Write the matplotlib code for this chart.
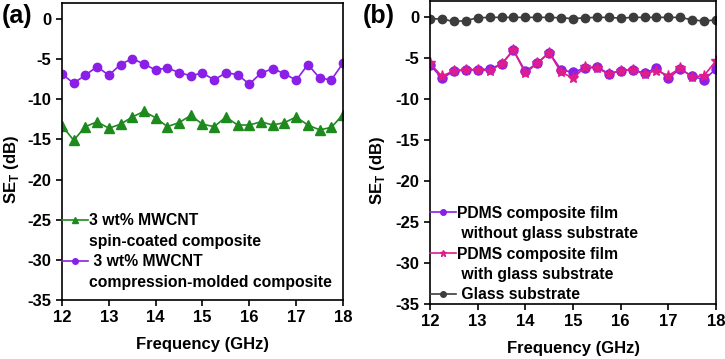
import numpy as np
import matplotlib
matplotlib.use('Agg')
import matplotlib.pyplot as plt
from matplotlib.lines import Line2D

plt.rcParams['font.family'] = ['Liberation Sans', 'DejaVu Sans']
plt.rcParams['font.weight'] = 'bold'
plt.rcParams['font.size'] = 11
plt.rcParams['axes.unicode_minus'] = False

# frequency points (GHz)
freq = np.arange(12, 18.01, 0.25)

# panel (a)
spin_coated = [-13.3, -15.1, -13.4, -12.8, -13.6, -13.1, -12.2, -11.5, -12.3, -13.4,
               -12.9, -12.0, -13.1, -13.4, -12.2, -13.2, -13.2, -12.8, -13.2, -12.9,
               -12.2, -13.2, -13.8, -13.5, -11.9]
comp_molded = [-6.84, -8.0, -6.97, -5.94, -7.0, -5.66, -4.92, -5.6, -6.35, -6.07,
               -6.68, -7.05, -6.72, -7.58, -6.68, -6.93, -8.1, -6.72, -6.19, -6.8,
               -7.62, -5.66, -7.34, -7.58, -5.5]

# panel (b)
no_glass = [-5.8, -7.4, -6.6, -6.4, -6.4, -6.3, -5.7, -4.0, -6.6, -5.6,
            -4.3, -6.4, -6.7, -6.2, -6.0, -6.9, -6.5, -6.4, -6.8, -6.2,
            -7.4, -6.3, -7.2, -7.6, -6.3]
with_glass = [-5.6, -7.2, -6.5, -6.4, -6.4, -6.5, -5.7, -4.0, -6.8, -5.6,
              -4.3, -6.7, -7.4, -6.1, -6.2, -6.9, -6.5, -6.4, -6.9, -6.5,
              -7.1, -6.2, -7.3, -7.1, -5.3]
glass = [-0.15, -0.2, -0.5, -0.4, -0.05, 0, 0, 0, 0, 0,
         0, -0.05, -0.15, -0.05, 0, 0, -0.1, 0, 0, 0,
         0, 0, -0.3, -0.45, -0.3]

green = '#1e8a1e'
violet = '#8a1fe8'
magenta = '#de1c8e'
grey = '#3c3c3c'

fig = plt.figure(figsize=(7.25, 3.59), dpi=100)
ax1 = fig.add_axes([0.0855, 0.1643, 0.3876, 0.8273])
ax2 = fig.add_axes([0.5931, 0.1532, 0.3945, 0.8440])


def style_axis(ax, xl):
    ax.set_xlim(12, 18)
    ax.set_ylim(-35, 2)
    ax.set_xticks(range(12, 19))
    ax.set_yticks(range(-35, 1, 5))
    ax.tick_params(direction='out', length=4, width=1.2, labelsize=12, top=False, right=False)
    for s in ax.spines.values():
        s.set_linewidth(1.2)
    ax.set_xlabel('Frequency (GHz)', fontsize=12, fontweight='bold', labelpad=8)
    ax.set_ylabel(r'SE$_\mathregular{T}$ (dB)', fontsize=12, fontweight='bold')
    ax.yaxis.set_label_coords(xl, 0.44)


blank = Line2D([], [], linestyle='none', marker=None)
leg_kw = dict(loc='lower left', frameon=False, borderpad=0, borderaxespad=0,
              handlelength=1.65, handletextpad=0.1, labelspacing=0.35,
              prop={'weight': 'bold', 'size': 11.3})

# (a)
ax1.plot(freq, spin_coated, '-^', color=green, ms=7, lw=1.2)
ax1.plot(freq, comp_molded, '-o', color=violet, ms=6, lw=1.2)
style_axis(ax1, -0.145)
h1 = Line2D([], [], color=green, marker='^', ms=4, lw=1.2)
h2 = Line2D([], [], color=violet, marker='o', ms=4, lw=1.2)
ax1.legend([h1, blank, h2, blank],
           ['3 wt% MWCNT', 'spin-coated composite', ' 3 wt% MWCNT', 'compression-molded composite'],
           bbox_to_anchor=(0.0, 0.035), **leg_kw)
fig.text(0.002, 0.935, '(a)', fontsize=18, fontweight='bold')

# (b)
ax2.plot(freq, no_glass, '-o', color=violet, ms=6.5, lw=1.2)
ax2.plot(freq, with_glass, '-*', color=magenta, ms=8, lw=1.2, mfc=magenta, mec=magenta)
ax2.plot(freq, glass, '-o', color=grey, ms=6, lw=1.2)
style_axis(ax2, -0.152)
g1 = Line2D([], [], color=violet, marker='o', ms=4, lw=1.2)
g2 = Line2D([], [], color=magenta, marker='*', ms=5, lw=1.2)
g3 = Line2D([], [], color=grey, marker='o', ms=4, lw=1.2)
ax2.legend([g1, blank, g2, blank, g3],
           ['PDMS composite film', ' without glass substrate', 'PDMS composite film',
            ' with glass substrate', ' Glass substrate'],
           bbox_to_anchor=(0.0, 0.005), **leg_kw)
fig.text(0.500, 0.935, '(b)', fontsize=18, fontweight='bold')

fig.savefig('out.png', dpi=100)
